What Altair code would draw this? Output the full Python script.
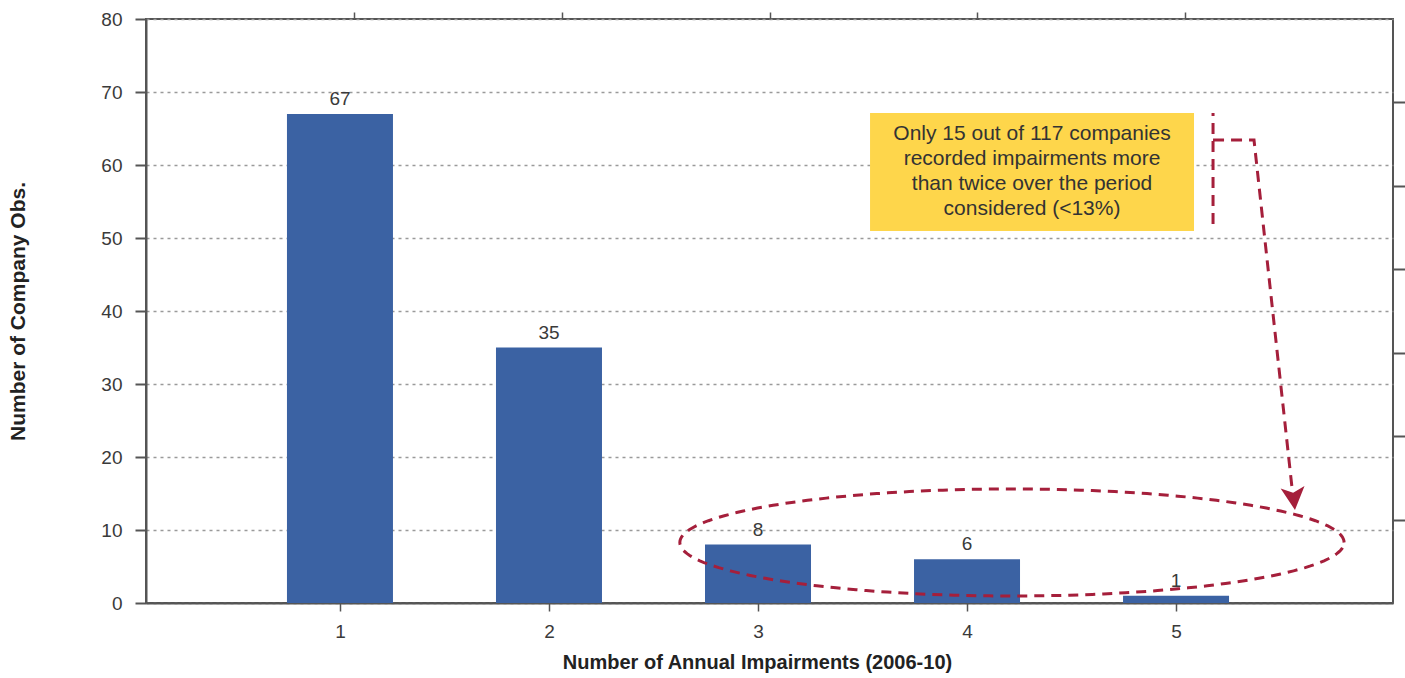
import numpy as np
import pandas as pd
import altair as alt

# ---- data -------------------------------------------------------------
impairments = [1, 2, 3, 4, 5]
companies = [67, 35, 8, 6, 1]
y_ticks = [0, 10, 20, 30, 40, 50, 60, 70, 80]
note_lines = [
    "Only 15 out of 117 companies",
    "recorded impairments more",
    "than twice over the period",
    "considered (<13%)",
]
x_title = "Number of Annual Impairments (2006-10)"
y_title = "Number of Company Obs."

# ---- styling ----------------------------------------------------------
FONT = "Liberation Sans"
BAR = "#3B62A3"
RED = "#A51F3B"
YELLOW = "#FED64B"
FRAME = "#555555"
LABEL = "#3A3A3A"

X_DOMAIN = [0.072, 6.038]
Y_DOMAIN = [0, 80]
xs = alt.Scale(domain=X_DOMAIN, nice=False, zero=False, padding=0)
ys = alt.Scale(domain=Y_DOMAIN, nice=False, padding=0)

# the frame's top edge is split in sixths, the right edge in sevenths
top_ticks = [X_DOMAIN[0] + k * (X_DOMAIN[1] - X_DOMAIN[0]) / 6 for k in range(1, 6)]
right_ticks = [k * Y_DOMAIN[1] / 7 for k in range(1, 7)]

bars_df = pd.DataFrame({"n": impairments, "companies": companies})

bars = alt.Chart(bars_df).mark_bar(orient="vertical", size=106, color=BAR).encode(
    x=alt.X(
        "n:Q", scale=xs,
        axis=alt.Axis(
            orient="bottom",
            values=impairments, format="d", title=x_title, grid=False,
            tickSize=8, tickWidth=1.5, tickColor=FRAME,
            labelFontSize=19, labelColor=LABEL, labelFont=FONT,
            labelBaseline="alphabetic", labelPadding=26,
            domainColor=FRAME, domainWidth=2,
            titleFont=FONT, titleFontSize=20, titleFontWeight="bold", titleColor="#222222",
            titleX=611, titleY=65, titleBaseline="alphabetic", titleAlign="center",
        ),
    ),
    y=alt.Y(
        "companies:Q", scale=ys,
        axis=alt.Axis(
            orient="left",
            values=y_ticks, format="d", title=y_title,
            grid=True, gridColor="#9A9A9A", gridDash=[3, 4], gridWidth=1.5,
            tickSize=11, tickWidth=2, tickColor=FRAME,
            labelFontSize=19, labelColor=LABEL, labelFont=FONT, labelPadding=13,
            domainColor=FRAME, domainWidth=2,
            titleFont=FONT, titleFontSize=21, titleFontWeight="bold", titleColor="#222222",
            titleAngle=270, titleX=-122, titleY=292,
            titleBaseline="alphabetic", titleAlign="center",
        ),
    ),
)

# unlabelled tick marks along the top and right edges of the frame
guide_df = pd.DataFrame({"gx": [1.0], "gy": [1.0]})
guides = alt.Chart(guide_df).mark_point(opacity=0).encode(
    x=alt.X("gx:Q", scale=xs,
            axis=alt.Axis(orient="top", values=top_ticks, labels=False, title=None,
                          domain=False, grid=False, tickSize=7, tickWidth=1.5, tickColor=FRAME)),
    y=alt.Y("gy:Q", scale=ys,
            axis=alt.Axis(orient="right", values=right_ticks, labels=False, title=None,
                          domain=False, grid=False, tickSize=12, tickWidth=2, tickColor=FRAME)),
)

bar_labels = alt.Chart(bars_df).mark_text(
    font=FONT, fontSize=19, color=LABEL, baseline="alphabetic", dy=-9
).encode(
    x=alt.X("n:Q", scale=xs, axis=None),
    y=alt.Y("companies:Q", scale=ys, axis=None),
    text=alt.Text("companies:Q", format="d"),
)

# ---- callout box --------------------------------------------------------
box_df = pd.DataFrame({"x0": [3.536], "x1": [5.086], "y0": [50.96], "y1": [67.12]})
box = alt.Chart(box_df).mark_rect(color=YELLOW).encode(
    x=alt.X("x0:Q", scale=xs, axis=None), x2="x1:Q",
    y=alt.Y("y0:Q", scale=ys, axis=None), y2="y1:Q",
)

note_df = pd.DataFrame({
    "line": note_lines,
    "x": [4.311] * 4,
    "y": [63.42, 60.0, 56.58, 53.15],
})
note = alt.Chart(note_df).mark_text(
    font=FONT, fontSize=21, color="#333333", baseline="alphabetic", align="center"
).encode(
    x=alt.X("x:Q", scale=xs, axis=None),
    y=alt.Y("y:Q", scale=ys, axis=None),
    text="line:N",
)

# bracket beside the box and the arrow leading down to the ellipse
bracket_df = pd.DataFrame({"x": [5.177], "y0": [51.92], "y1": [67.12]})
bracket = alt.Chart(bracket_df).mark_rule(
    color=RED, strokeWidth=3, strokeDash=[11, 7]
).encode(
    x=alt.X("x:Q", scale=xs, axis=None),
    y=alt.Y("y0:Q", scale=ys, axis=None), y2="y1:Q",
)

leader_df = pd.DataFrame({"x": [5.177, 5.373, 5.555], "y": [63.42, 63.42, 15.75], "i": [0, 1, 2]})
leader = alt.Chart(leader_df).mark_line(
    color=RED, strokeWidth=3, strokeDash=[11, 7]
).encode(
    x=alt.X("x:Q", scale=xs, axis=None),
    y=alt.Y("y:Q", scale=ys, axis=None),
    order="i:Q",
)

head_df = pd.DataFrame({"x": [5.563], "y": [14.38]})
head = alt.Chart(head_df).mark_point(
    shape="M0,1 L-1,-0.9 L0,-0.45 L1,-0.9 Z",
    size=576, filled=True, fill=RED, opacity=1, angle=354,
).encode(
    x=alt.X("x:Q", scale=xs, axis=None),
    y=alt.Y("y:Q", scale=ys, axis=None),
)

# dashed ellipse around the groups with three or more impairments
t = np.linspace(0, 2 * np.pi, 181)
ell_df = pd.DataFrame({
    "x": 4.215 + 1.589 * np.cos(t),
    "y": 8.29 + 7.33 * np.sin(t),
    "i": np.arange(len(t)),
})
ellipse = alt.Chart(ell_df).mark_line(
    color=RED, strokeWidth=3, strokeDash=[10, 7]
).encode(
    x=alt.X("x:Q", scale=xs, axis=None),
    y=alt.Y("y:Q", scale=ys, axis=None),
    order="i:Q",
)

chart = alt.layer(
    bars, guides, bar_labels, box, note, bracket, leader, ellipse, head
).resolve_axis(
    x="independent", y="independent"
).properties(
    width=1247, height=584,
    autosize=alt.AutoSizeParams(type="none"),
    padding={"left": 146, "top": 19, "right": 12, "bottom": 75},
    background="white",
).configure_view(stroke=FRAME, strokeWidth=2)

chart.save("out.html", embed_options={"renderer": "svg", "actions": False})
